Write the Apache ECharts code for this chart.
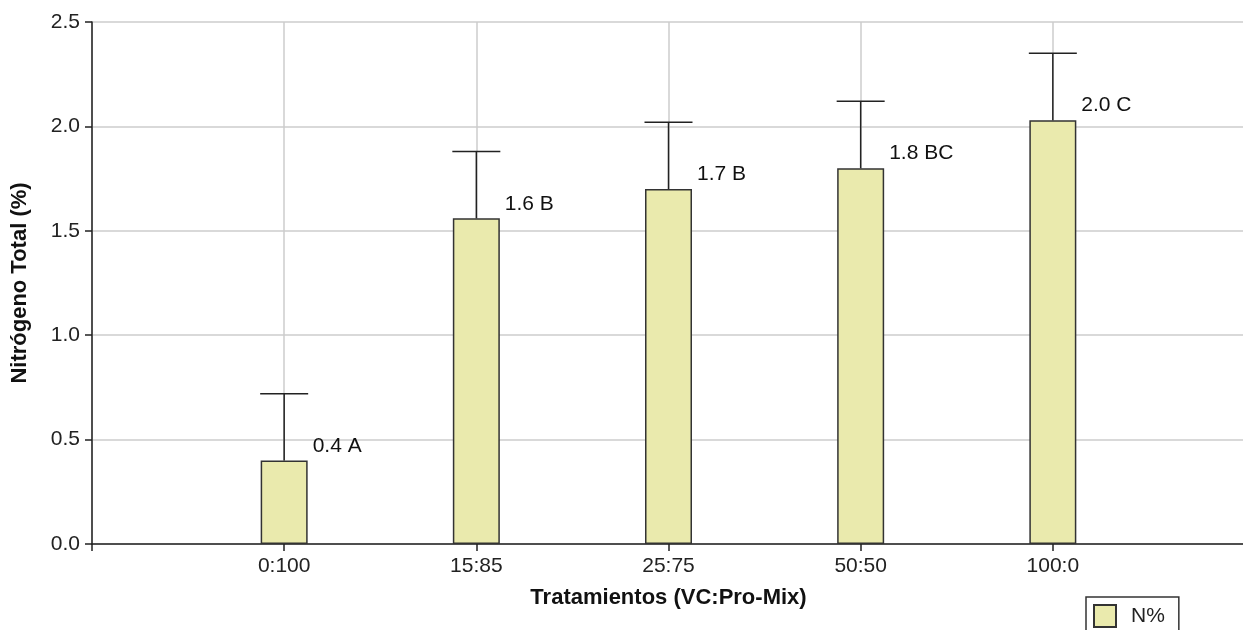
<!DOCTYPE html>
<html>
<head>
<meta charset="utf-8">
<script src="https://cdn.jsdelivr.net/npm/echarts@6/dist/echarts.min.js"></script>
<style>
  html, body { margin: 0; padding: 0; background: #fff; overflow: hidden; }
  #chart { width: 1243px; height: 630px; }
</style>
</head>
<body>
<div id="chart"></div>
<script>
// Treatments (vermicompost : Pro-Mix ratio)
var categories = ['0:100', '15:85', '25:75', '50:50', '100:0'];
// Mean total nitrogen (%)
var nitrogen = [0.40, 1.56, 1.70, 1.80, 2.03];
// Upper end of the error bar (%)
var errorTop = [0.72, 1.88, 2.02, 2.12, 2.35];
// Significance groups
var groups = ['A', 'B', 'B', 'BC', 'C'];
var yTicks = [0, 0.5, 1.0, 1.5, 2.0, 2.5];

var FONT = '"Liberation Sans", Arial, sans-serif';
var chart = echarts.init(document.getElementById('chart'));

var barData = nitrogen.map(function (v, i) { return [i + 1, v]; });
var errData = nitrogen.map(function (v, i) { return [i + 1, v, errorTop[i]]; });

chart.setOption({
  animation: false,
  textStyle: { fontFamily: FONT },
  // the plot area runs slightly past the right edge of the canvas
  grid: { left: 92, right: -2, top: 22, bottom: 86, containLabel: false, outerBoundsMode: 'none' },
  legend: {
    data: ['N%'],
    left: 1086,
    top: 597,
    orient: 'horizontal',
    borderColor: '#333',
    borderWidth: 1.5,
    padding: [7, 14, 10, 7],
    itemWidth: 22,
    itemHeight: 22,
    textStyle: { fontSize: 21, color: '#222', fontFamily: FONT, padding: [0, 0, 0, 10] },
    icon: 'rect'
  },
  xAxis: {
    type: 'value',
    min: 0,
    max: categories.length + 1,
    interval: 1,
    name: 'Tratamientos (VC:Pro-Mix)',
    nameLocation: 'middle',
    nameGap: 43,
    nameTextStyle: { fontSize: 22, fontWeight: 'bold', color: '#111', fontFamily: FONT },
    axisLine: { lineStyle: { color: '#222', width: 1.5 } },
    axisTick: { show: true, length: 7, lineStyle: { color: '#222', width: 1.5 } },
    axisLabel: {
      fontSize: 21, color: '#222', margin: 12, fontFamily: FONT,
      formatter: function (v) { return categories[v - 1] || ''; }
    },
    splitLine: { show: true, lineStyle: { color: '#cccccc', width: 1.5 } }
  },
  yAxis: {
    type: 'value',
    min: yTicks[0],
    max: yTicks[yTicks.length - 1],
    interval: 0.5,
    name: 'Nitrógeno Total (%)',
    nameLocation: 'middle',
    nameGap: 61,
    nameTextStyle: { fontSize: 22, fontWeight: 'bold', color: '#111', fontFamily: FONT },
    axisLine: { show: true, lineStyle: { color: '#222', width: 1.5 } },
    axisTick: { show: true, length: 7, lineStyle: { color: '#222', width: 1.5 } },
    axisLabel: {
      fontSize: 21, color: '#222', margin: 12, fontFamily: FONT,
      formatter: function (v) { return v.toFixed(1); }
    },
    splitLine: { show: true, lineStyle: { color: '#cccccc', width: 1.5 } }
  },
  series: [
    {
      name: 'N%',
      type: 'bar',
      data: barData,
      barWidth: 47,
      itemStyle: { color: '#EAEAAD', borderColor: '#333', borderWidth: 1.5 },
      label: {
        show: true,
        position: [52, -25],
        fontSize: 21,
        color: '#111',
        fontFamily: FONT,
        formatter: function (p) {
          return p.value[1].toFixed(1) + ' ' + groups[p.dataIndex];
        }
      },
      z: 2
    },
    {
      name: 'error',
      type: 'custom',
      data: errData,
      z: 3,
      renderItem: function (params, api) {
        var x = api.value(0);
        var base = api.coord([x, api.value(1)]);
        var top = api.coord([x, api.value(2)]);
        var half = 24;
        var style = { stroke: '#222', lineWidth: 1.5 };
        return {
          type: 'group',
          children: [
            { type: 'line', shape: { x1: base[0], y1: base[1], x2: top[0], y2: top[1] }, style: style },
            { type: 'line', shape: { x1: top[0] - half, y1: top[1], x2: top[0] + half, y2: top[1] }, style: style }
          ]
        };
      }
    }
  ]
});
</script>
</body>
</html>
